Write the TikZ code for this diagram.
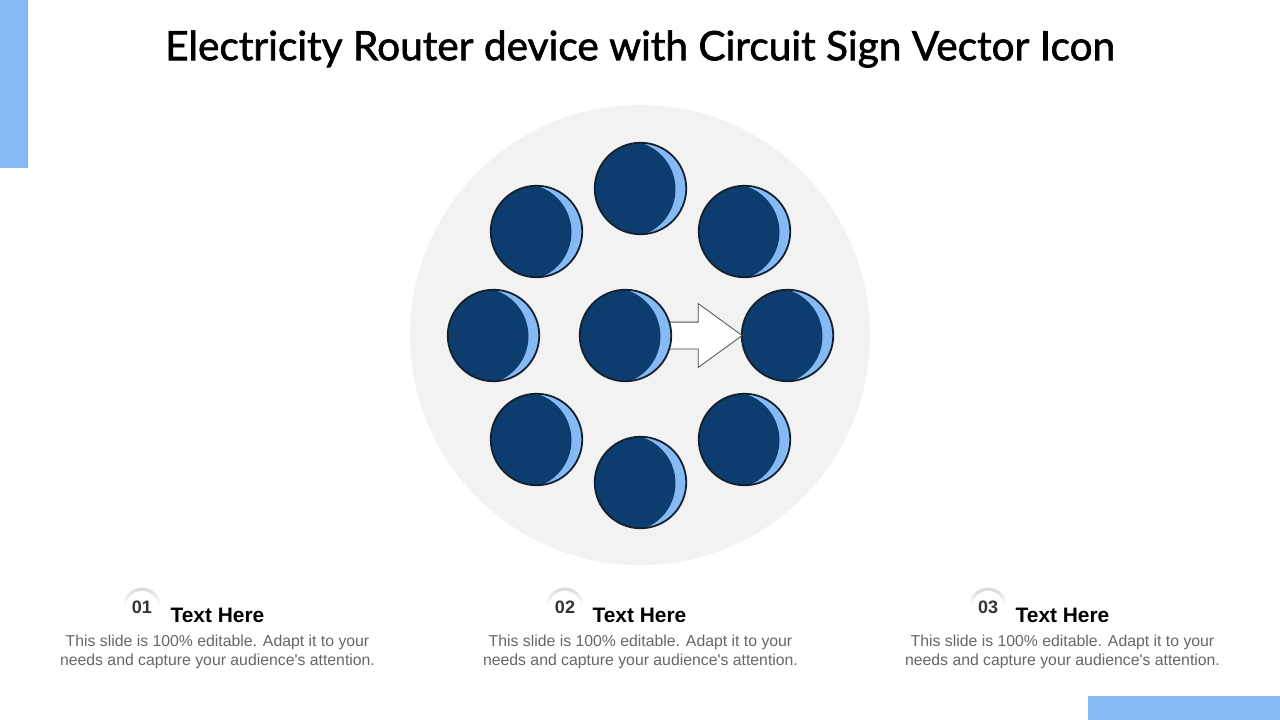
\documentclass[tikz,border=0pt]{standalone}
\usepackage{fontspec}
\setmainfont{Liberation Sans}
\newfontfamily\titlefont[FakeBold=1.6]{Lato}
\usetikzlibrary{shapes.arrows, positioning}
\definecolor{skyblue}{HTML}{85BAF5}
\definecolor{navyblue}{HTML}{0C3D6E}
\definecolor{inkline}{HTML}{14202E}
\definecolor{discgray}{HTML}{F2F2F2}
\tikzset{
    x=1pt, y=-1pt,
    moon/.style={circle, inner sep=0pt, minimum size=91.5pt, draw=inkline, line width=1.8pt, fill=skyblue,
        path picture={\fill[navyblue] (path picture bounding box.north)
            arc[start angle=90, end angle=270, radius=46.5pt]
            arc[start angle=-73.9, end angle=73.9, radius=48.4pt];}}, % dark part of each circle
    flowarrow/.style={single arrow, anchor=tip, inner sep=0pt, text height=26pt, minimum height=80pt,
        single arrow tip angle=72, single arrow head extend=18.5pt, single arrow head indent=0pt,
        draw=black!70, fill=white, line width=0.8pt},
    badge/.style={circle, inner sep=0pt, minimum size=32pt, fill=white, text=black!80,
        font=\bfseries\fontsize{18}{18}\selectfont},
    badgeshade/.style={circle, inner sep=0pt, minimum size=37pt, top color=black!15, bottom color=white, middle color=white},
    heading/.style={font=\bfseries\fontsize{20.9}{20.9}\selectfont, text=black},
    bodytext/.style={align=center, text=black!60, font=\fontsize{15.8}{19.5}\selectfont},
}
\begin{document}
\begin{tikzpicture}
    \useasboundingbox (0,0) rectangle (1280,720);
    \fill[skyblue] (0,0) rectangle (28,168);
    \fill[skyblue] (1088,696) rectangle (1280,720);
    \node[font=\titlefont\fontsize{40.6}{41}\selectfont] (title) at (640,49) {Electricity Router device with Circuit Sign Vector Icon};

    \node[circle, inner sep=0pt, minimum size=460pt, fill=discgray] (disc) at (640,335) {};

    \node[moon] (top) at (640.5,188.5) {};
    \node[moon] (topleft) at (536.5,231.5) {};
    \node[moon] (topright) at (744.5,231.5) {};
    \node[moon] (left) at (493.5,335.5) {};
    \node[moon] (right) at (787.5,335.5) {};
    \node[moon] (botleft) at (536.5,439.5) {};
    \node[moon] (botright) at (744.5,439.5) {};
    \node[moon] (bottom) at (640.5,482.5) {};
    \node[flowarrow] (flow) at ([xshift=2pt]right.west) {};
    \node[moon] (hub) at (625.5,335.5) {};

    % footer columns
    \node[badgeshade] (shadeA) at (142,606) {};
    \node[badge] (badgeA) at (142,607) {01};
    \node[heading] (headA) at (217.5,615) {Text Here};
    \node[bodytext] (bodyA) at (217.5,652) {This slide is 100\% editable. Adapt it to your\\needs and capture your audience\textquotesingle s attention.};

    \node[badgeshade] (shadeB) at (565,606) {};
    \node[badge] (badgeB) at (565,607) {02};
    \node[heading] (headB) at (639.5,615) {Text Here};
    \node[bodytext] (bodyB) at (640.5,652) {This slide is 100\% editable. Adapt it to your\\needs and capture your audience\textquotesingle s attention.};

    \node[badgeshade] (shadeC) at (988,606) {};
    \node[badge] (badgeC) at (988,607) {03};
    \node[heading] (headC) at (1062.5,615) {Text Here};
    \node[bodytext] (bodyC) at (1062.5,652) {This slide is 100\% editable. Adapt it to your\\needs and capture your audience\textquotesingle s attention.};
\end{tikzpicture}
\end{document}
